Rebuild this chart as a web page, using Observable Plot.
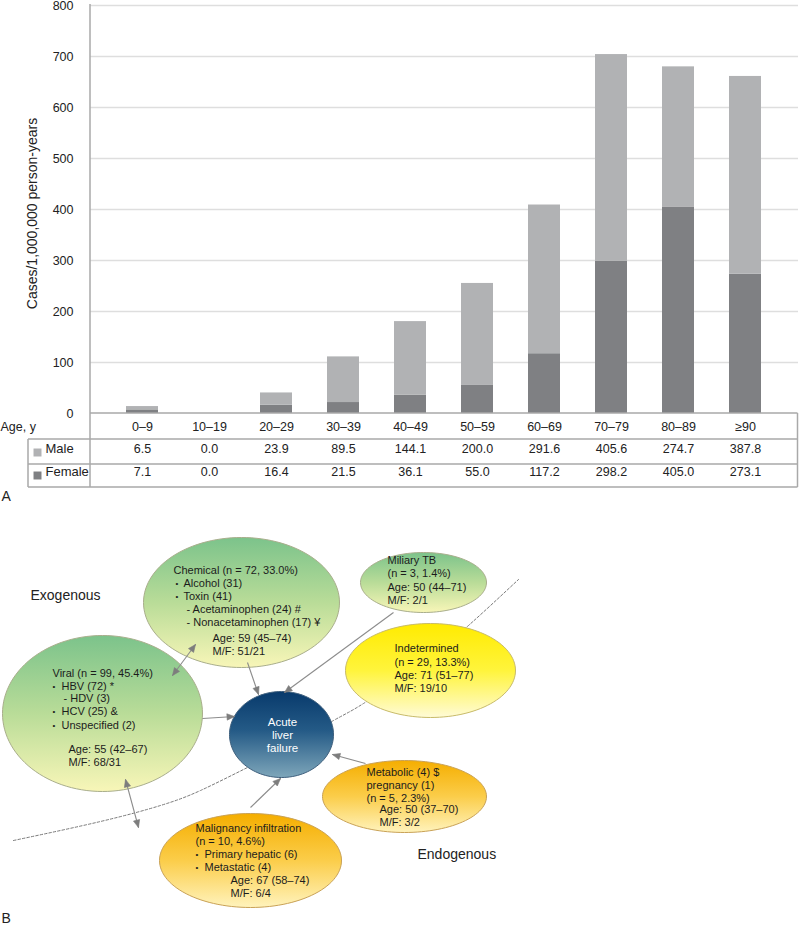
<!DOCTYPE html>
<html><head><meta charset="utf-8">
<script src="https://cdn.jsdelivr.net/npm/d3@7"></script>
<script src="https://cdn.jsdelivr.net/npm/@observablehq/plot@0.6"></script>
<style>
body{margin:0;background:#fff;}
#chart svg{display:block;}
</style></head><body><div id="chart"></div>
<script>
// ---------- Panel A data ----------
const ages = ["0–9","10–19","20–29","30–39","40–49","50–59","60–69","70–79","80–89","≥90"];
const maleRates = [6.5,0.0,23.9,89.5,144.1,200.0,291.6,405.6,274.7,387.8];
const femaleRates = [7.1,0.0,16.4,21.5,36.1,55.0,117.2,298.2,405.0,273.1];
const yTicks = [0,100,200,300,400,500,600,700,800];
const seriesNames = ["Male","Female"];
const seriesColors = ["#b1b2b4","#7f8083"];
const yLabel = "Cases/1,000,000 person-years";
const tableHeader = "Age, y";

// ---------- Panel B data ----------
const nodeIds   = ["chem","viral","tb","ind","alf","met","mal"];
const nodeCx    = [241,102,423,430,281,404,250];
const nodeCy    = [602,713,582,670,734,796,860];
const nodeRx    = [98,100,63,85,52,82,91];
const nodeRy    = [65,78,30,47,43,36,47];
const nodeGrad  = ["gGreen","gGreen","gGreen","gYellow","gNavy","gOrange","gOrange"];
const nodeEdge  = ["#a9ae8c","#a9ae8c","#a9ae8c","#c8bb6a","#3e5f7d","#c9a257","#c9a257"];

const chemLines = [[173,570,"Chemical (n = 72, 33.0%)"],[175,583,"•"],[183,583,"Alcohol (31)"],[175,596,"•"],[183,596,"Toxin (41)"],[186,609,"- Acetaminophen (24) #"],[186,622,"- Nonacetaminophen (17) ¥"],[212,638,"Age: 59 (45–74)"],[212,651,"M/F: 51/21"]];
const viralLines = [[52,673,"Viral (n = 99, 45.4%)"],[52,686,"•"],[61,686,"HBV (72) *"],[63,698,"- HDV (3)"],[52,711,"•"],[61,711,"HCV (25) &"],[52,725,"•"],[61,725,"Unspecified (2)"],[68,749,"Age: 55 (42–67)"],[68,762,"M/F: 68/31"]];
const tbLines = [[387,560,"Miliary TB"],[387,573,"(n = 3, 1.4%)"],[387,587,"Age: 50 (44–71)"],[387,600,"M/F: 2/1"]];
const indLines = [[394,648,"Indetermined"],[394,662,"(n = 29, 13.3%)"],[394,675,"Age: 71 (51–77)"],[394,688,"M/F: 19/10"]];
const metLines = [[366,772,"Metabolic (4) $"],[366,785,"pregnancy (1)"],[366,798,"(n = 5, 2.3%)"],[379,809,"Age: 50 (37–70)"],[379,822,"M/F: 3/2"]];
const malLines = [[195,828,"Malignancy infiltration"],[195,841,"(n = 10, 4.6%)"],[195,854,"•"],[204,854,"Primary hepatic (6)"],[195,867,"•"],[204,867,"Metastatic (4)"],[230,880,"Age: 67 (58–74)"],[230,893,"M/F: 6/4"]];
const alfLines = [[282,722,"Acute"],[282,735,"liver"],[282,748,"failure"]];
const bigLabels = [[30,595,"Exogenous"],[417,854,"Endogenous"],[1,496,"A"],[1,918,"B"]];

// arrows: x1,y1,x2,y2, heads at end ("end") or both
const arrows = [
  [202,718,234,716,"end"],
  [247,662,258,694,"end"],
  [393,612,284,692,"end"],
  [365,763,332,754,"end"],
  [250,807,280,778,"end"],
  [172,675,195,644,"both"],
  [125,779,138,827,"both"]
];
const dashCurve = [[13,840],[100,821],[160,805],[200,790],[247,767],[290,745],[333,720],[363,703],[420,664],[468,625],[518,579]];

const gradients = {
  gGreen: [[0,"#7cc38b"],[0.5,"#b9dc98"],[1,"#f8f6b8"]],
  gYellow: [[0,"#ffeb00"],[0.5,"#fff43c"],[1,"#fffbd6"]],
  gOrange: [[0,"#f5ae00"],[0.5,"#fbcd4a"],[1,"#fff3bc"]],
  gNavy: [[0,"#083a6c"],[0.45,"#245a86"],[1,"#7ea6ba"]]
};

const FONT = "'Liberation Sans', Arial, Helvetica, sans-serif";
const W = 800;

// ---------- Panel A ----------
const long = [];
ages.forEach((a, i) => {
  long.push({age: a, sex: "Female", v: femaleRates[i]});
  long.push({age: a, sex: "Male", v: maleRates[i]});
});
const HA = 490, ML = 90, MR = 2, MT = 5, MB = 77;
const base = HA - MB;
function tableGrid() {
  const g = d3.create("svg:g").attr("stroke", "#a9a9a9").attr("stroke-width", 1.5).attr("fill", "none");
  const R = 797.5, L = 28, r1 = base + 26, r2 = base + 51, r3 = base + 74;
  const segs = [[ML, MT - 1, ML, r3], [ML, base, R, base], [L, r1, R, r1], [L, r2, R, r2], [L, r3, R, r3], [R, base, R, r3], [L, r1, L, r3]];
  for (const [x1, y1, x2, y2] of segs) g.append("line").attr("x1", x1).attr("y1", y1).attr("x2", x2).attr("y2", y2);
  return g.node();
}
const plotA = Plot.plot({
  width: W, height: HA, marginLeft: ML, marginRight: MR, marginTop: MT, marginBottom: MB,
  style: {fontFamily: FONT, fontSize: "12.5px", color: "#222", background: "white", overflow: "visible"},
  x: {domain: ages, padding: 0.52, tickSize: 0, tickPadding: 9, label: null},
  y: {domain: [0, 800], ticks: yTicks, tickSize: 0, tickPadding: 17, label: null},
  color: {domain: seriesNames, range: seriesColors},
  marks: [
    Plot.ruleY(yTicks.filter(t => t > 0), {stroke: "#dedede", strokeWidth: 1.5}),
    Plot.barY(long, {x: "age", y: "v", fill: "sex"}),
    tableGrid,
    Plot.text(ages, {x: d => d, text: (d, i) => maleRates[i].toFixed(1), frameAnchor: "bottom", dy: 39}),
    Plot.text(ages, {x: d => d, text: (d, i) => femaleRates[i].toFixed(1), frameAnchor: "bottom", dy: 62}),
    Plot.text([tableHeader], {frameAnchor: "bottom-left", textAnchor: "start", dx: -ML, dy: 17}),
    Plot.text([seriesNames[0]], {frameAnchor: "bottom-left", textAnchor: "start", dx: 45 - ML, dy: 39, fontSize: 13}),
    Plot.text([seriesNames[1]], {frameAnchor: "bottom-left", textAnchor: "start", dx: 45 - ML, dy: 62, fontSize: 13}),
    Plot.dot([seriesNames[0]], {frameAnchor: "bottom-left", symbol: "square", r: 4.5, fill: seriesColors[0], dx: 37 - ML, dy: 39}),
    Plot.dot([seriesNames[1]], {frameAnchor: "bottom-left", symbol: "square", r: 4.5, fill: seriesColors[1], dx: 37 - ML, dy: 62}),
    Plot.text([yLabel], {frameAnchor: "left", rotate: -90, textAnchor: "middle", dx: 32 - ML, dy: 4, fontSize: 14})
  ]
});

// ---------- Panel B ----------
const HB = 435, Y0 = 490;
function defsMark() {
  const defs = d3.create("svg:defs");
  for (const [id, stops] of Object.entries(gradients)) {
    const lg = defs.append("linearGradient").attr("id", id).attr("x1", 0).attr("y1", 0).attr("x2", 0).attr("y2", 1);
    for (const [o, c] of stops) lg.append("stop").attr("offset", o).attr("stop-color", c);
  }
  return defs.node();
}
function ellipsePts(i) {
  const pts = [];
  for (let k = 0; k <= 120; k++) {
    const t = (k / 120) * 2 * Math.PI;
    pts.push({x: nodeCx[i] + nodeRx[i] * Math.cos(t), y: nodeCy[i] + nodeRy[i] * Math.sin(t)});
  }
  return pts;
}
const shafts = arrows.map(([x1, y1, x2, y2]) => ({x1, y1, x2, y2}));
const heads = [];
arrows.forEach(([x1, y1, x2, y2, kind], j) => {
  const mk = (tx, ty, fx, fy, id) => {
    const dx = tx - fx, dy = ty - fy, len = Math.hypot(dx, dy);
    const ux = dx / len, uy = dy / len, L = 7.5, Wd = 3.2;
    const bx = tx - ux * L, by = ty - uy * L;
    heads.push({id, x: tx, y: ty}, {id, x: bx - uy * Wd, y: by + ux * Wd}, {id, x: bx + uy * Wd, y: by - ux * Wd}, {id, x: tx, y: ty});
  };
  mk(x2, y2, x1, y1, j + "e");
  if (kind === "both") mk(x1, y1, x2, y2, j + "s");
});
const toObj = arr => arr.map(([x, y, t]) => ({x, y, t}));
const leftText = [...chemLines, ...viralLines, ...tbLines, ...indLines, ...metLines, ...malLines].filter(d => d[2] !== "•");
const bullets = [...chemLines, ...viralLines, ...malLines].filter(d => d[2] === "•");

const ellipseMarks = nodeIds.map((id, i) => Plot.line(ellipsePts(i), {x: "x", y: "y", fill: `url(#${nodeGrad[i]})`, stroke: nodeEdge[i], strokeWidth: 1, curve: "linear"}));

const plotB = Plot.plot({
  width: W, height: HB, margin: 0,
  x: {domain: [0, W], range: [0, W], axis: null},
  y: {domain: [Y0, Y0 + HB], range: [0, HB], axis: null},
  style: {fontFamily: FONT, fontSize: "11px", color: "#222", background: "white", overflow: "visible"},
  marks: [
    defsMark,
    Plot.line(dashCurve, {x: d => d[0], y: d => d[1], curve: "natural", stroke: "#7a7a7a", strokeWidth: 1, strokeDasharray: "2.5,2"}),
    ...ellipseMarks,
    Plot.link(shafts, {x1: "x1", y1: "y1", x2: "x2", y2: "y2", stroke: "#8c8c8c", strokeWidth: 1.1}),
    Plot.line(heads, {x: "x", y: "y", z: "id", fill: "#7d7d7d", stroke: "#7d7d7d", strokeWidth: 0.6}),
    Plot.text(toObj(leftText), {x: "x", y: "y", text: "t", textAnchor: "start", fill: "#1c1c1c", fontSize: 11}),
    Plot.text(toObj(bullets), {x: "x", y: "y", text: "t", textAnchor: "start", fill: "#1c1c1c", fontSize: 8}),
    Plot.text(toObj(alfLines), {x: "x", y: "y", text: "t", textAnchor: "middle", fill: "white", fontSize: 11.5}),
    Plot.text(toObj(bigLabels), {x: "x", y: "y", text: "t", textAnchor: "start", fill: "#222", fontSize: 14})
  ]
});

const root = document.getElementById("chart");
root.appendChild(plotA);
root.appendChild(plotB);
</script>
</body></html>
